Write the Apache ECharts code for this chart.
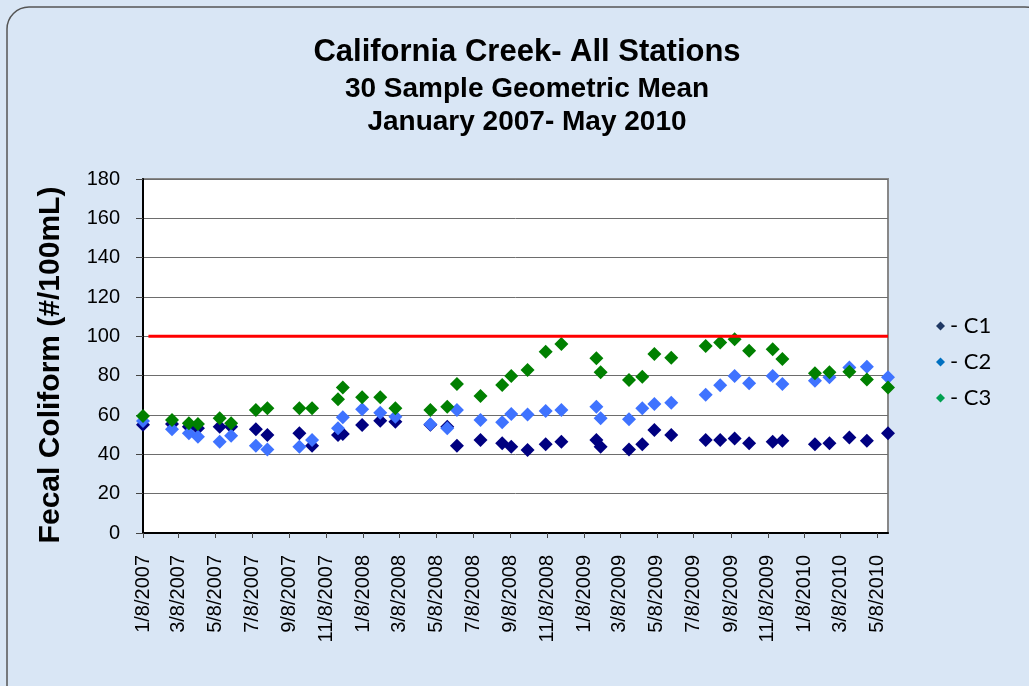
<!DOCTYPE html>
<html>
<head>
<meta charset="utf-8">
<script src="https://cdn.jsdelivr.net/npm/echarts@6/dist/echarts.min.js"></script>
<style>
html,body{margin:0;padding:0;background:#d9e6f5;}
#chart{width:1029px;height:686px;}
</style>
</head>
<body>
<div id="chart"></div>
<script>
// ---- data ----
const sampleDates = ['2007-01-08','2007-02-25','2007-03-25','2007-04-09','2007-05-15','2007-06-03','2007-07-14','2007-08-02','2007-09-24','2007-10-15','2007-11-27','2007-12-05','2008-01-06','2008-02-05','2008-03-01','2008-04-28','2008-05-26','2008-06-11','2008-07-20','2008-08-25','2008-09-09','2008-10-06','2008-11-05','2008-12-01','2009-01-28','2009-02-04','2009-03-23','2009-04-14','2009-05-04','2009-06-01','2009-07-28','2009-08-21','2009-09-14','2009-10-08','2009-11-16','2009-12-02','2010-01-25','2010-02-18','2010-03-23','2010-04-21','2010-05-26'];
const c1 = [55,55.4,54,53.2,54,54,52.7,49.8,50.7,44.4,49.8,50.3,54.9,57.1,56.6,55,54,44.4,47.3,45.6,43.9,42.2,45.1,46.4,47.3,43.9,42.5,45.1,52.4,49.8,47.3,47.3,48.1,45.6,46.4,46.9,45.1,45.6,48.5,46.9,50.7];
const c2 = [57,52.7,50.7,49,46.4,49.5,44.4,42.5,43.9,47.3,53.2,58.8,62.9,61.2,59.1,55.3,53.2,62.5,57.4,56.3,60.5,60.3,62,62.5,64.2,58.3,57.8,63.4,65.6,66.2,70.3,75.1,79.8,76.1,79.8,75.7,77.4,79.2,84.2,84.5,79.2];
const c3 = [59.5,57.4,55.8,55.4,58.3,55.8,62.5,63.4,63.4,63.4,68,74,69,69,63.4,62.5,64.2,75.7,69.6,75.2,79.8,82.9,92.2,96.1,88.8,81.7,77.8,79.5,91,89.1,95.1,96.9,98.5,92.7,93.4,88.5,81.2,81.7,82,78.1,74];
const limitValue = 100;
const limitDates = ['2007-01-17','2010-05-26'];
const xTickLabels = ['1/8/2007','3/8/2007','5/8/2007','7/8/2007','9/8/2007','11/8/2007','1/8/2008','3/8/2008','5/8/2008','7/8/2008','9/8/2008','11/8/2008','1/8/2009','3/8/2009','5/8/2009','7/8/2009','9/8/2009','11/8/2009','1/8/2010','3/8/2010','5/8/2010'];
const yTicks = [0,20,40,60,80,100,120,140,160,180];
const seriesNames = ['C1','C2','C3'];

// ---- helpers ----
function isoToTs(s){const p=s.split('-').map(Number);return Date.UTC(p[0],p[1]-1,p[2]);}
function mdyToTs(s){const p=s.split('/').map(Number);return Date.UTC(p[2],p[0]-1,p[1]);}
const tickTs = xTickLabels.map(mdyToTs);
const labelByTs = {};
tickTs.forEach((t,i)=>{labelByTs[t]=xTickLabels[i];});
function pairs(vals){return sampleDates.map((d,i)=>[isoToTs(d),vals[i]]);}

const chart = echarts.init(document.getElementById('chart'), null, {renderer:'canvas'});
const symSize = [14,14];
const titleFont = 'Liberation Sans, Arial';
chart.setOption({
  animation:false,
  backgroundColor:'#d9e6f5',
  title:[
    {text:'California Creek- All Stations',left:527,textAlign:'center',top:37,padding:0,
     textStyle:{fontFamily:titleFont,fontWeight:'bold',fontSize:31,color:'#000'}},
    {text:'30 Sample Geometric Mean',left:527,textAlign:'center',top:75,padding:0,
     textStyle:{fontFamily:titleFont,fontWeight:'bold',fontSize:28,color:'#000'}},
    {text:'January 2007- May 2010',left:527,textAlign:'center',top:108,padding:0,
     textStyle:{fontFamily:titleFont,fontWeight:'bold',fontSize:28,color:'#000'}}
  ],
  graphic:[{type:'rect',z:-1,silent:true,shape:{x:7,y:7,width:1040,height:700,r:22},
    style:{fill:'none',stroke:'#555',lineWidth:1.5}}],
  legend:{
    orient:'vertical',left:936,top:315,padding:0,itemWidth:9,itemHeight:9,itemGap:14,
    icon:'diamond',formatter:n=>'- '+n,
    textStyle:{fontFamily:'Lato',fontSize:22,lineHeight:22,color:'#000'},
    data:[{name:'C1',itemStyle:{color:'#1f3864'}},{name:'C2',itemStyle:{color:'#0070c0'}},{name:'C3',itemStyle:{color:'#00a050'}}]
  },
  grid:{left:143,top:179,right:141,bottom:153,show:true,borderColor:'#888',borderWidth:2,backgroundColor:'#fff',containLabel:false},
  xAxis:{
    type:'value',min:isoToTs(sampleDates[0]),max:isoToTs(sampleDates[sampleDates.length-1]),
    axisLine:{show:true,lineStyle:{color:'#000',width:2}},
    axisTick:{show:true,length:5,lineStyle:{color:'#444'},customValues:tickTs},
    axisLabel:{rotate:90,margin:22,fontFamily:'Liberation Sans, Arial',fontSize:20,color:'#000',
      customValues:tickTs,formatter:v=>labelByTs[v]||''},
    splitLine:{show:false}
  },
  yAxis:{
    type:'value',min:yTicks[0],max:yTicks[yTicks.length-1],interval:20,
    name:'Fecal Coliform (#/100mL)',nameLocation:'middle',nameGap:77,
    nameTextStyle:{fontFamily:titleFont,fontWeight:'bold',fontSize:30,color:'#000',padding:[0,18,0,0]},
    axisLine:{show:true,lineStyle:{color:'#000',width:2}},
    axisTick:{show:true,length:7,lineStyle:{color:'#444'}},
    axisLabel:{margin:23,fontFamily:'Liberation Sans, Arial',fontSize:20,color:'#000'},
    splitLine:{show:true,lineStyle:{color:'#6d6d6d',width:1}}
  },
  series:[
    {name:'C1',type:'scatter',symbol:'diamond',symbolSize:symSize,data:pairs(c1),itemStyle:{color:'#000080',opacity:1}},
    {name:'C2',type:'scatter',symbol:'diamond',symbolSize:symSize,data:pairs(c2),itemStyle:{color:'#3f73ff',opacity:1}},
    {name:'C3',type:'scatter',symbol:'diamond',symbolSize:symSize,data:pairs(c3),itemStyle:{color:'#008000',opacity:1}},
    {name:'Limit',type:'line',symbol:'none',silent:true,z:3,
     data:limitDates.map(d=>[isoToTs(d),limitValue]),lineStyle:{color:'#ff0000',width:3}}
  ]
});
</script>
</body>
</html>
